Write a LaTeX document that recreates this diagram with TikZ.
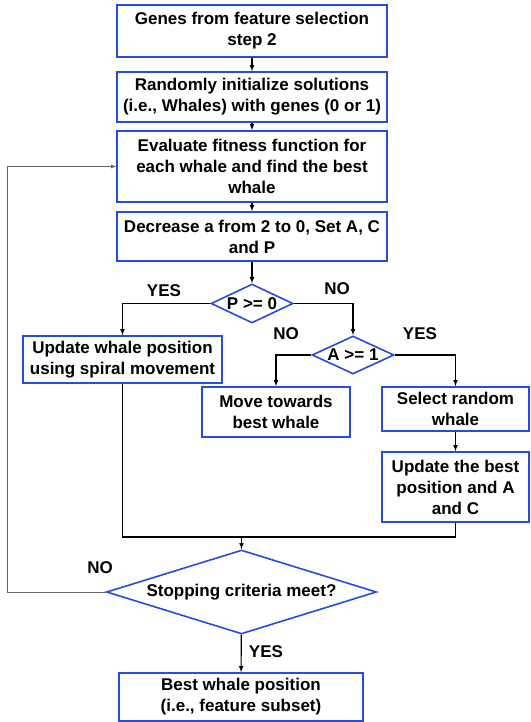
\documentclass[tikz,border=0pt]{standalone}
\usepackage{fontspec}
\setmainfont{Liberation Sans}
\usetikzlibrary{arrows,shapes,positioning,calc}
\definecolor{boxblue}{RGB}{38,76,222}

\begin{document}
\begin{tikzpicture}[x=1pt, y=-1pt,
    font=\fontsize{17}{21}\selectfont\bfseries,
    block/.style={draw=boxblue, line width=1.6pt, align=center, inner sep=0pt},
    decision/.style={draw=boxblue, line width=1.6pt, diamond, align=center, inner sep=0pt},
    link/.style={line width=1.1pt},
    arrow/.style={link, -latex},
    loopline/.style={draw=black!60, line width=0.8pt, -latex}]
    \useasboundingbox (0,0) rectangle (530,722);

    \node[block, minimum width=270pt, minimum height=52pt] (genes) at (252,31) {Genes from feature selection\\step 2};
    \node[block, minimum width=270pt, minimum height=50pt] (init) at (252,97) {Randomly initialize solutions\\(i.e., Whales) with genes (0 or 1)};
    \node[block, minimum width=270pt, minimum height=71pt] (eval) at (252,166.5) {Evaluate fitness function for\\each whale and find the best\\whale};
    \node[block, minimum width=270pt, minimum height=49pt] (decr) at (252,236.5) {Decrease a from 2 to 0, Set A, C\\and P};
    \node[decision, minimum width=82pt, minimum height=39pt, aspect=2.6] (pcheck) at (252,303.5) {P >= 0};
    \node[block, minimum width=199pt, minimum height=47pt] (spiral) at (122.5,359.5) {Update whale position\\using spiral movement};
    \node[decision, minimum width=82pt, minimum height=38pt, aspect=2.6] (acheck) at (353,355) {A >= 1};
    \node[block, minimum width=148pt, minimum height=50pt] (towards) at (276,412) {Move towards\\best whale};
    \node[block, minimum width=147pt, minimum height=44pt] (select) at (455.5,409) {Select random\\whale};
    \node[block, minimum width=147pt, minimum height=70pt] (updbest) at (455.5,487) {Update the best\\position and A\\and C};
    \node[decision, minimum width=270pt, minimum height=84pt, aspect=3.2] (stop) at (241.5,592) {Stopping criteria meet?};
    \node[block, minimum width=244pt, minimum height=48pt] (result) at (241,697) {Best whale position\\(i.e., feature subset)};

    \node (yes1) at (164,291) {YES};
    \node (no1) at (337,289) {NO};
    \node (no2) at (286,334) {NO};
    \node (yes2) at (420,334) {YES};
    \node (no3) at (100,568) {NO};
    \node (yes3) at (266,652) {YES};

    \coordinate (merge) at (241.5,537);
    \coordinate (loopcorner) at (7,592);

    \draw[arrow] (genes) -- (init);
    \draw[arrow] (init) -- (eval);
    \draw[arrow] (eval) -- (decr);
    \draw[arrow] (decr) -- (pcheck);
    \draw[arrow] (pcheck.west) -| (spiral);
    \draw[arrow] (pcheck.east) -| (acheck);
    \draw[arrow] (acheck.west) -| (towards);
    \draw[arrow] (acheck.east) -| (select);
    \draw[arrow] (select) -- (updbest);
    \draw[link] (spiral) |- (merge);
    \draw[link] (updbest) |- (merge);
    \draw[arrow] (merge) -- (stop);
    \draw[arrow] (stop) -- (result);
    \draw[loopline] (stop.west) -- (loopcorner) |- (eval.west);
\end{tikzpicture}
\end{document}
